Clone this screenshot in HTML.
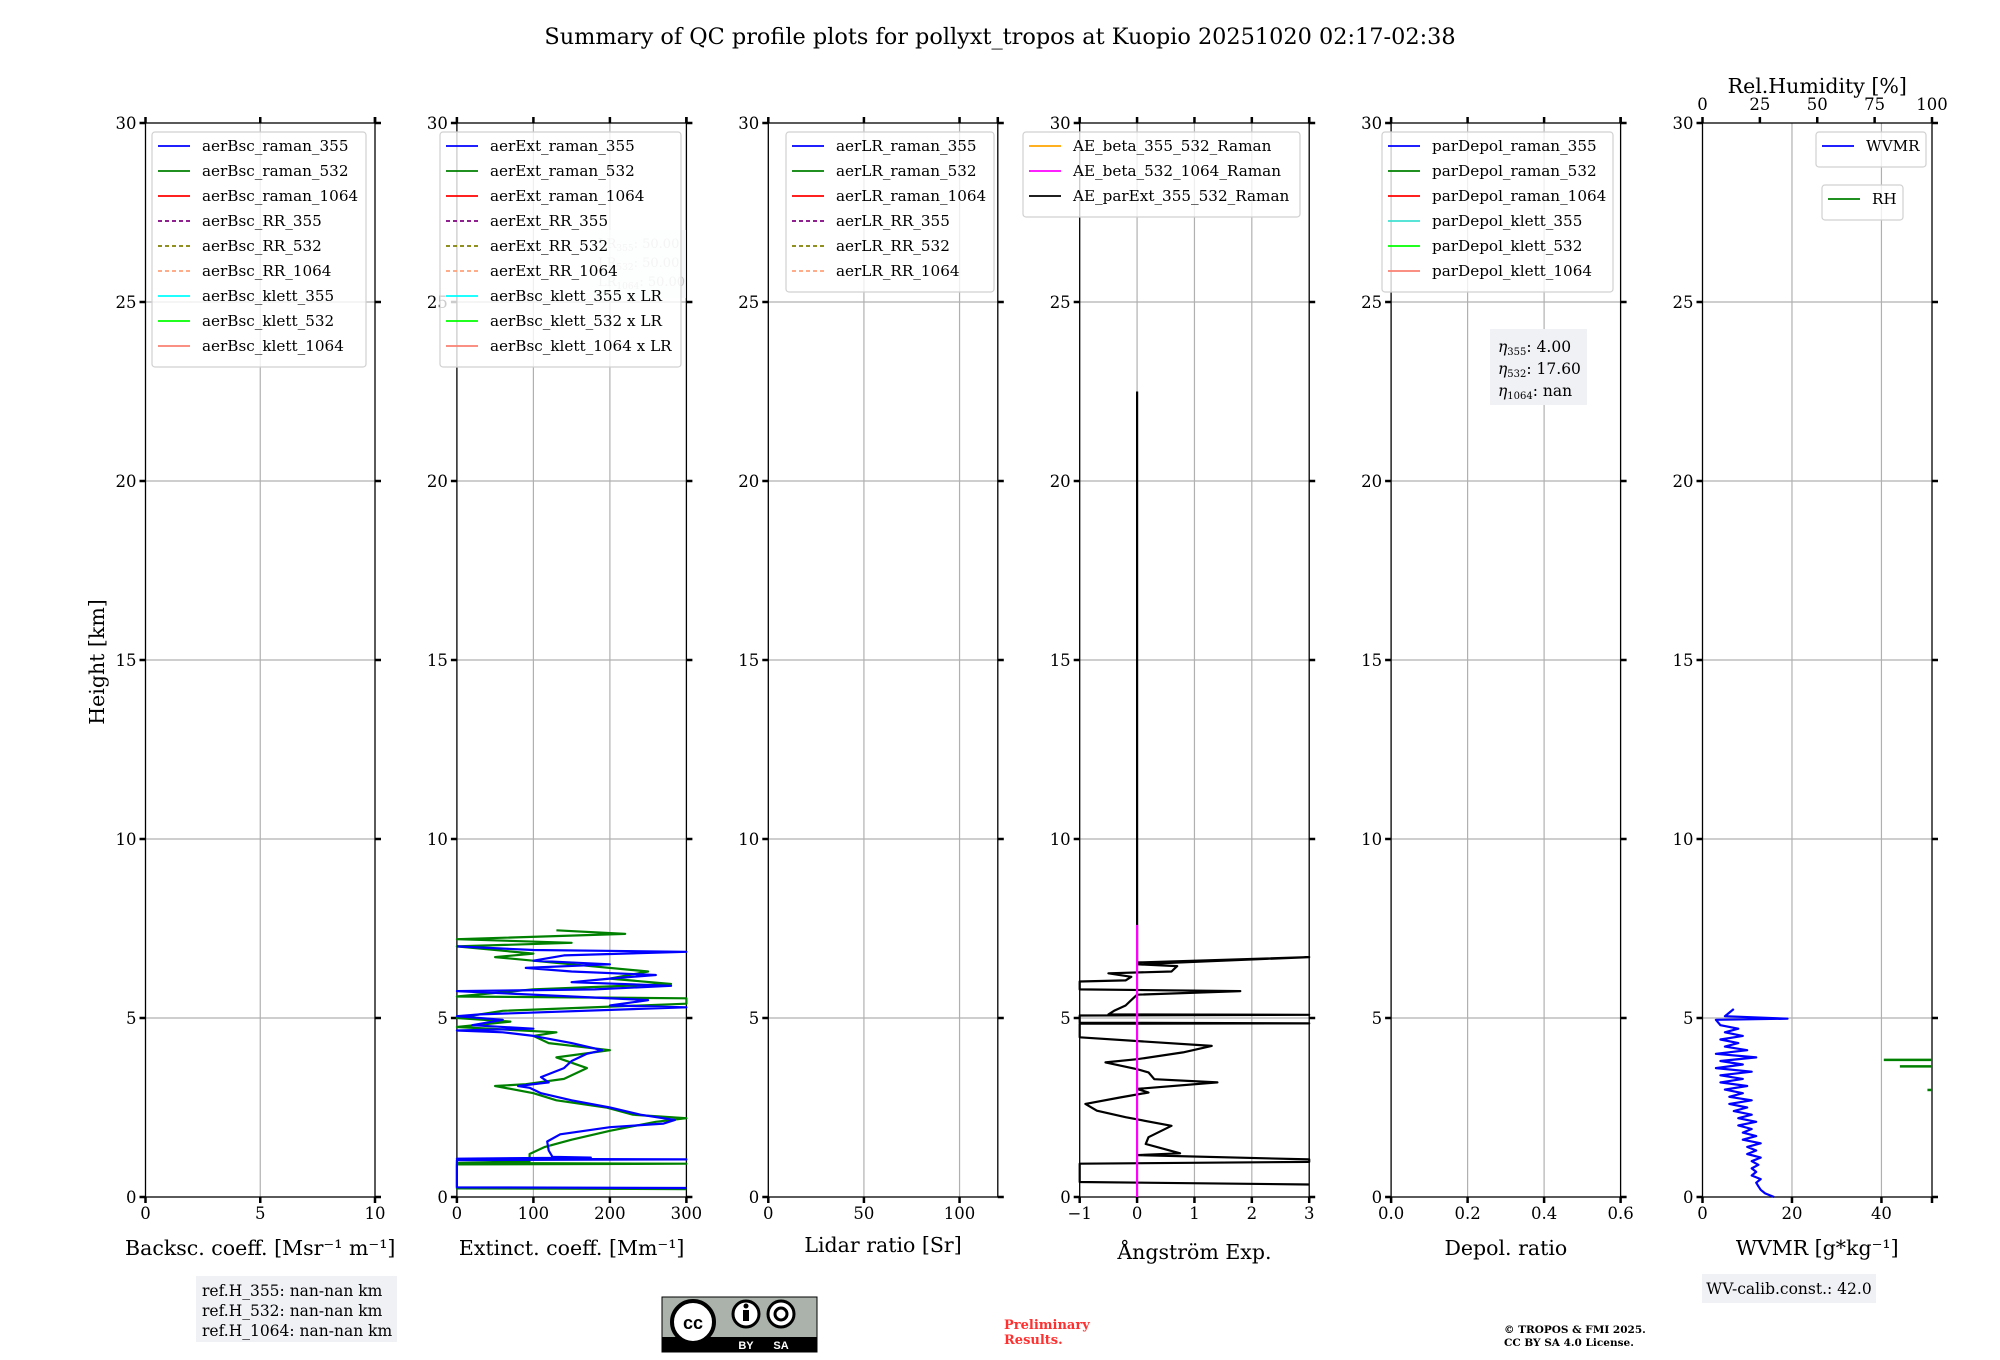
<!DOCTYPE html>
<html><head><meta charset="utf-8"><style>
html,body{margin:0;padding:0;background:#fff}
svg{display:block;font-family:"DejaVu Serif","Liberation Serif",serif}
</style></head><body>
<svg id="fig" width="2000" height="1360" viewBox="0 0 2000 1360" xmlns="http://www.w3.org/2000/svg">
<text x="1000" y="44" font-size="22.4" text-anchor="middle">Summary of QC profile plots for pollyxt_tropos at Kuopio 20251020 02:17-02:38</text>
<g id="layer"></g>
</svg>
<script>
// ---- data ----
const heightTicks = [0, 5, 10, 15, 20, 25, 30];
const bscTicks = [0, 5, 10];
const extTicks = [0, 100, 200, 300];
const lrTicks = [0, 50, 100];
const aeTicks = [-1, 0, 1, 2, 3];
const depolTicks = ["0.0", "0.2", "0.4", "0.6"];
const wvTicks = [0, 20, 40];
const rhTicks = [0, 25, 50, 75, 100];

const ext355H = [0.25,0.27,1.03,1.05,1.07,1.1,1.12,1.3,1.55,1.75,1.95,2.05,2.15,2.3,2.5,2.7,2.9,3.05,3.1,3.2,3.35,3.6,3.8,4.0,4.1,4.3,4.5,4.6,4.65,4.7,4.8,4.95,5.05,5.1,5.3,5.35,5.5,5.6,5.75,5.8,5.9,6.0,6.1,6.2,6.3,6.4,6.5,6.6,6.75,6.85,6.9,7.0];
const ext355V = [300,0,0,300,0,175,125,120,118,135,200,270,285,240,200,150,110,95,80,120,110,140,150,170,190,150,100,60,0,100,20,60,0,30,300,200,250,150,0,180,280,150,200,260,150,90,200,100,140,300,100,0];
const ext532H = [0.22,0.24,0.91,0.93,0.95,1.0,1.2,1.4,1.6,1.85,2.1,2.2,2.3,2.5,2.7,2.9,3.1,3.15,3.3,3.6,3.9,4.1,4.3,4.5,4.6,4.75,4.9,5.0,5.2,5.4,5.55,5.6,5.8,5.95,6.1,6.3,6.5,6.7,6.8,7.0,7.1,7.2,7.35,7.45];
const ext532V = [300,0,0,300,0,95,95,115,150,200,260,300,230,195,130,100,50,90,140,170,130,200,120,100,130,0,70,0,60,300,300,0,100,280,200,250,150,50,100,0,150,0,220,130];

const aeExtH = [0.35,0.42,0.93,0.98,1.05,1.17,1.22,1.48,1.67,1.99,2.23,2.41,2.6,2.78,2.92,3.02,3.2,3.29,3.48,3.57,3.76,3.85,4.04,4.22,4.46,4.84,4.85,4.87,5.07,5.09,5.1,5.2,5.35,5.5,5.65,5.75,5.8,6.02,6.05,6.15,6.25,6.3,6.45,6.5,6.7,6.55,22.5];
const aeExtV = [3,-1,-1,3,3,0,0.75,0.15,0.2,0.6,-0.2,-0.7,-0.9,-0.3,0.2,0,1.4,0.3,0.2,0,-0.55,0,0.8,1.3,-1,-1,3,-1,-1,3,-0.5,-0.4,-0.2,-0.1,0,1.8,-1,-1,-0.2,-0.1,-0.5,0.6,0.7,0,3,0,0];
const aeBeta532H = [0, 7.6];
const aeBeta532V = [0, 0];

const wvH = [0.0,0.1,0.2,0.3,0.4,0.5,0.6,0.7,0.8,0.9,1.0,1.1,1.2,1.3,1.4,1.5,1.6,1.7,1.8,1.9,2.0,2.1,2.2,2.3,2.4,2.5,2.6,2.7,2.8,2.9,3.0,3.1,3.2,3.3,3.4,3.5,3.6,3.7,3.8,3.9,4.0,4.1,4.2,4.3,4.4,4.5,4.6,4.7,4.8,4.95,4.98,5.05,5.25];
const wvV = [16,14,13,12.5,12,13,11,12,11,12.5,11,13,10,12,10,13,9,12,9,11,8,12,8,11,7,10,6,11,6,9,5,10,4,9,4,11,3,9,4,12,3,10,5,8,4,9,5,8,4,3,19,5,7];
const rhH = [3.65, 3.83, 2.99];
const rhV = [86, 79, 98];

// ---- layout ----
const svgNS = "http://www.w3.org/2000/svg";
const layer = document.getElementById('layer');
const TOP = 123, BOT = 1197, W = 229.5;
const lefts = [145.5, 456.9, 768.3, 1079.7, 1391.1, 1702.5];
function yH(h){ return BOT - (h/30)*(BOT-TOP); }
function mk(tag, attrs, parent){
  const e = document.createElementNS(svgNS, tag);
  for (const k in attrs) e.setAttribute(k, attrs[k]);
  (parent||layer).appendChild(e);
  return e;
}
const panels = [
  {min:0,max:10,ticks:bscTicks,label:'Backsc. coeff. [Msr⁻¹ m⁻¹]',name:'backscatter'},
  {min:0,max:300,ticks:extTicks,label:'Extinct. coeff. [Mm⁻¹]',name:'extinction'},
  {min:0,max:120,ticks:lrTicks,label:'Lidar ratio [Sr]',name:'lidar-ratio'},
  {min:-1,max:3,ticks:aeTicks,label:'Ångström Exp.',name:'angstrom'},
  {min:0,max:0.6,ticks:depolTicks,label:'Depol. ratio',name:'depol'},
  {min:0,max:51.3,ticks:wvTicks,label:'WVMR [g*kg⁻¹]',name:'wvmr'}
];
function xf(p, v){ return lefts[p] + (v - panels[p].min)/(panels[p].max-panels[p].min)*W; }

panels.forEach((P, i) => {
  const L = lefts[i], R = L + W;
  const g = mk('g', {});
  
  
  heightTicks.forEach(h => {
    if (h>0 && h<30) mk('line',{x1:L,x2:R,y1:yH(h),y2:yH(h),stroke:'#b0b0b0','stroke-width':1.2},g);
  });
  P.ticks.forEach(t => {
    const x = xf(i, parseFloat(t));
    if (x>L+1 && x<R-1) mk('line',{x1:x,x2:x,y1:TOP,y2:BOT,stroke:'#b0b0b0','stroke-width':1.2},g);
  });
  mk('rect',{x:L,y:TOP,width:W,height:BOT-TOP,fill:'none',stroke:'#000','stroke-width':1.3},g);
  heightTicks.forEach(h => {
    mk('line',{x1:L-6,x2:L,y1:yH(h),y2:yH(h),stroke:'#000','stroke-width':2.5},g);
    mk('line',{x1:R,x2:R+6,y1:yH(h),y2:yH(h),stroke:'#000','stroke-width':2.5},g);
    const t = mk('text',{x:L-9,y:yH(h)+6,'font-size':16.5,'text-anchor':'end'},g);
    t.textContent = h;
    
    
  });
  P.ticks.forEach(tk => {
    const x = xf(i, parseFloat(tk));
    mk('line',{x1:x,x2:x,y1:BOT,y2:BOT+6,stroke:'#000','stroke-width':2.5},g);
    if (i!==5) mk('line',{x1:x,x2:x,y1:TOP-6,y2:TOP,stroke:'#000','stroke-width':2.5},g);
    const t = mk('text',{x:x,y:1219,'font-size':16.5,'text-anchor':'middle'},g);
    t.textContent = (typeof tk==='number' && tk<0) ? '−'+Math.abs(tk) : tk;
    
    
  });
  if (i===5) {
    mk('line',{x1:R,x2:R,y1:BOT,y2:BOT+6,stroke:'#000','stroke-width':2.5},g);
    rhTicks.forEach(tk => {
      const x = L + tk/100*W;
      mk('line',{x1:x,x2:x,y1:TOP-6,y2:TOP,stroke:'#000','stroke-width':2.5},g);
      const t = mk('text',{x:x,y:110,'font-size':16.5,'text-anchor':'middle'},g);
      t.textContent = tk;
      
      
    });
    const rt = mk('text',{x:L+W/2,y:93,'font-size':20.5,'text-anchor':'middle'},g);
    rt.textContent = 'Rel.Humidity [%]';
    
    
  } else {
    mk('line',{x1:R,x2:R,y1:TOP-6,y2:TOP,stroke:'#000','stroke-width':2.5},g);
  }
  const xl = mk('text',{x:L+W/2,y:i===3?1259:(i===2?1252:1255),'font-size':20.5,'text-anchor':'middle'},g);
  xl.textContent = P.label;
  
  
});

function series(p, H, V, color, name){
  const pts = H.map((h,k)=>(xf(p,V[k]).toFixed(1)+','+yH(h).toFixed(1))).join(' ');
  const pl = mk('polyline',{points:pts,fill:'none',stroke:color,'stroke-width':2.2,'stroke-linejoin':'round'});
  
  
}
series(1, ext532H, ext532V, '#008000', 'ext-raman-532-line');
series(1, ext355H, ext355V, '#0000ff', 'ext-raman-355-line');
series(3, aeExtH, aeExtV, '#000000', 'ae-parext-355-532-line');
series(3, aeBeta532H, aeBeta532V, '#ff00ff', 'ae-beta-532-1064-line');
series(5, wvH, wvV, '#0000ff', 'wvmr-line');
rhH.forEach((h,k)=>{
  const l = mk('line',{x1:lefts[5]+rhV[k]/100*W,x2:lefts[5]+W,y1:yH(h),y2:yH(h),stroke:'#008000','stroke-width':2.5});
  
  
});

function legend(x, y, w, entries, name){
  const g = mk('g',{});
  
  
  mk('rect',{x:x,y:y,width:w,height:entries.length*25+10,rx:3,fill:'#fff','fill-opacity':0.8,stroke:'#d0d0d0','stroke-width':1.2},g);
  entries.forEach((e,k)=>{
    const cy = y+14+k*25;
    mk('line',{x1:x+6,x2:x+38,y1:cy,y2:cy,stroke:e[1],'stroke-width':1.8,'stroke-dasharray':e[2]?'4,3':'none'},g);
    const t = mk('text',{x:x+50,y:cy+5,'font-size':15.2},g);
    t.textContent = e[0];
    
    
  });
}
(function(){
  const g = mk('g',{});
  
  
  mk('rect',{x:590,y:230,width:96,height:68,fill:'#f2f3f7','fill-opacity':0.7},g);
  ['355','532','1064'].forEach((s,k)=>{
    const t = mk('text',{x:598,y:248+k*19,'font-size':13,fill:'#c8c8c8'},g);
    t.innerHTML = 'LR<tspan font-size="9" dy="3">'+s+'</tspan><tspan dy="-3">: 50.00</tspan>';
  });
})();
legend(152,132,214,[['aerBsc_raman_355','#0000ff'],['aerBsc_raman_532','#008000'],['aerBsc_raman_1064','#ff0000'],['aerBsc_RR_355','#800080',1],['aerBsc_RR_532','#808000',1],['aerBsc_RR_1064','#ffa07a',1],['aerBsc_klett_355','#00ffff'],['aerBsc_klett_532','#00ff00'],['aerBsc_klett_1064','#fa8072']],'backscatter-legend');
legend(440,132,241,[['aerExt_raman_355','#0000ff'],['aerExt_raman_532','#008000'],['aerExt_raman_1064','#ff0000'],['aerExt_RR_355','#800080',1],['aerExt_RR_532','#808000',1],['aerExt_RR_1064','#ffa07a',1],['aerBsc_klett_355 x LR','#00ffff'],['aerBsc_klett_532 x LR','#00ff00'],['aerBsc_klett_1064 x LR','#fa8072']],'extinction-legend');
legend(786,132,208,[['aerLR_raman_355','#0000ff'],['aerLR_raman_532','#008000'],['aerLR_raman_1064','#ff0000'],['aerLR_RR_355','#800080',1],['aerLR_RR_532','#808000',1],['aerLR_RR_1064','#ffa07a',1]],'lidar-ratio-legend');
legend(1023,132,277,[['AE_beta_355_532_Raman','#ffa500'],['AE_beta_532_1064_Raman','#ff00ff'],['AE_parExt_355_532_Raman','#000000']],'angstrom-legend');
legend(1382,132,231,[['parDepol_raman_355','#0000ff'],['parDepol_raman_532','#008000'],['parDepol_raman_1064','#ff0000'],['parDepol_klett_355','#40e0d0'],['parDepol_klett_532','#00ff00'],['parDepol_klett_1064','#fa8072']],'depol-legend');
legend(1816,132,110,[['WVMR','#0000ff']],'wvmr-legend');
legend(1822,185,81,[['RH','#008000']],'rh-legend');

(function(){
  const g = mk('g',{});
  
  
  mk('rect',{x:1490,y:329,width:97,height:76,fill:'#f0f1f5'},g);
  [['355','4.00'],['532','17.60'],['1064','nan']].forEach((s,k)=>{
    const t = mk('text',{x:1498,y:352+k*22,'font-size':15.5},g);
    t.innerHTML = '<tspan font-style="italic">η</tspan><tspan font-size="10" dy="3">'+s[0]+'</tspan><tspan dy="-3">: '+s[1]+'</tspan>';
  });
})();

const yt = mk('text',{x:0,y:0,'font-size':20.5,'text-anchor':'middle',transform:'translate(104,662) rotate(-90)'});
yt.textContent = 'Height [km]';



(function(){
  const g = mk('g',{});
  
  
  mk('rect',{x:196,y:1276,width:201,height:66,fill:'#f0f1f5'},g);
  ['ref.H_355: nan-nan km','ref.H_532: nan-nan km','ref.H_1064: nan-nan km'].forEach((s,k)=>{
    const t = mk('text',{x:202,y:1296+k*20,'font-size':15.5},g);
    t.textContent = s;
  });
  const g2 = mk('g',{});
  
  
  mk('rect',{x:1702,y:1274,width:174,height:29,fill:'#f0f1f5'},g2);
  const t2 = mk('text',{x:1789,y:1294,'font-size':15.5,'text-anchor':'middle'},g2);
  t2.textContent = 'WV-calib.const.: 42.0';
})();

(function(){
  const g = mk('g',{});
  
  
  mk('rect',{x:662,y:1297,width:155,height:55,fill:'#aab2ab',stroke:'#000','stroke-width':1},g);
  mk('rect',{x:662,y:1337,width:155,height:15,fill:'#000'},g);
  mk('circle',{cx:693,cy:1322,r:21,fill:'#fff',stroke:'#000','stroke-width':4},g);
  const c = mk('text',{x:693,y:1329,'font-size':18,'font-weight':'bold','text-anchor':'middle','font-family':'Liberation Sans, sans-serif'},g); c.textContent='cc';
  mk('circle',{cx:746,cy:1314,r:13,fill:'#fff',stroke:'#000','stroke-width':3},g);
  mk('rect',{x:743,y:1310,width:6,height:11,fill:'#000'},g);
  mk('circle',{cx:746,cy:1306,r:2.5,fill:'#000'},g);
  mk('circle',{cx:781,cy:1314,r:13,fill:'#fff',stroke:'#000','stroke-width':3},g);
  mk('circle',{cx:781,cy:1314,r:6,fill:'none',stroke:'#000','stroke-width':3},g);
  const by = mk('text',{x:746,y:1349,'font-size':11,'font-weight':'bold',fill:'#fff','text-anchor':'middle','font-family':'Liberation Sans, sans-serif'},g); by.textContent='BY';
  const sa = mk('text',{x:781,y:1349,'font-size':11,'font-weight':'bold',fill:'#fff','text-anchor':'middle','font-family':'Liberation Sans, sans-serif'},g); sa.textContent='SA';
})();
const pr = mk('text',{x:1004,y:1329,'font-size':13,'font-weight':'bold',fill:'#ff3030'});
pr.innerHTML = '<tspan x="1004" y="1329">Preliminary</tspan><tspan x="1004" y="1344">Results.</tspan>';


const cp = mk('text',{x:1504,y:1333,'font-size':10.5,'font-weight':'bold'});
cp.innerHTML = '<tspan x="1504" y="1333">© TROPOS &amp; FMI 2025.</tspan><tspan x="1504" y="1346">CC BY SA 4.0 License.</tspan>';


</script>
</body></html>
